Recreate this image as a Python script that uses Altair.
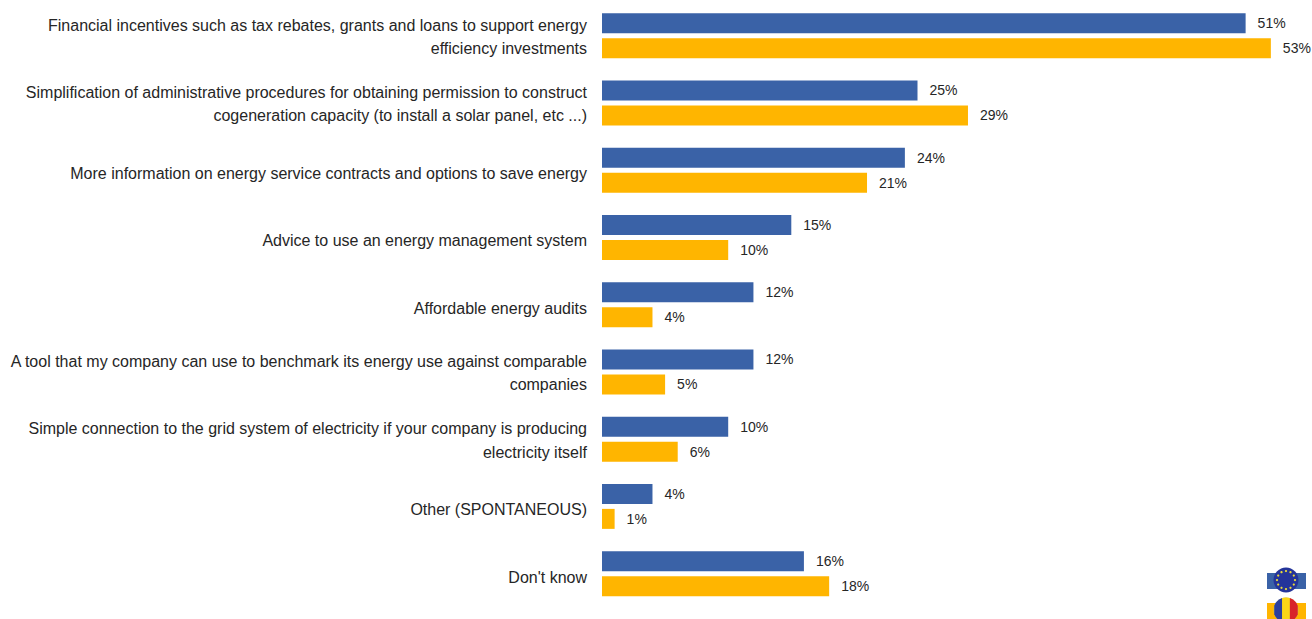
import math
import altair as alt
import pandas as pd

FONT = "Liberation Sans, Arial, sans-serif"
INK = "#262626"

categories = [
    "Financial incentives such as tax rebates, grants and loans to support energy|efficiency investments",
    "Simplification of administrative procedures for obtaining permission to construct|cogeneration capacity (to install a solar panel, etc ...)",
    "More information on energy service contracts and options to save energy",
    "Advice to use an energy management system",
    "Affordable energy audits",
    "A tool that my company can use to benchmark its energy use against comparable|companies",
    "Simple connection to the grid system of electricity if your company is producing|electricity itself",
    "Other (SPONTANEOUS)",
    "Don't know",
]
eu_values = [51, 25, 24, 15, 12, 12, 10, 4, 16]
ro_values = [53, 29, 21, 10, 4, 5, 6, 1, 18]
series = ["EU28", "RO"]
colors = ["#3A62A7", "#FFB500"]

rows = []
for name, values in zip(series, [eu_values, ro_values]):
    for cat, v in zip(categories, values):
        rows.append({"category": cat, "series": name, "value": v, "label": f"{v}%"})
df = pd.DataFrame(rows)

# One row per printed line of each category caption
caption_rows = []
for cat in categories:
    parts = cat.split("|")
    roles = ["only"] if len(parts) == 1 else ["first", "second"]
    for role, text in zip(roles, parts):
        caption_rows.append({"category": cat, "role": role, "text": text})
captions = pd.DataFrame(caption_rows)

x_scale = alt.Scale(domain=[0, 710 / 12.62], nice=False, zero=True)
y_scale = alt.Scale(domain=categories, paddingInner=0, paddingOuter=0)
offset_scale = alt.Scale(domain=series, paddingInner=0.2, paddingOuter=0.445)

y_enc = alt.Y("category:N", sort=categories, scale=y_scale, axis=None)
offset_enc = alt.YOffset("series:N", scale=offset_scale, sort=series)

bars = alt.Chart(df).mark_bar().encode(
    x=alt.X("value:Q", scale=x_scale, axis=None),
    y=y_enc,
    yOffset=offset_enc,
    color=alt.Color("series:N", scale=alt.Scale(domain=series, range=colors), legend=None),
)

labels = alt.Chart(df).mark_text(
    align="left", baseline="middle", dx=12, dy=1, font=FONT, fontSize=14, color=INK
).encode(
    x=alt.X("value:Q", scale=x_scale, axis=None),
    y=y_enc,
    yOffset=offset_enc,
    text="label:N",
)


def caption_layer(role, dy):
    return alt.Chart(captions[captions["role"] == role]).mark_text(
        align="right", baseline="middle", dy=dy, font=FONT, fontSize=16, color=INK
    ).encode(x=alt.value(-15), y=y_enc, text="text:N")


caption_layers = [caption_layer("first", -10), caption_layer("second", 13.5), caption_layer("only", 4)]

# Flag badges in the lower right corner
one = pd.DataFrame({"n": [0]})
LEFT, TOP = 602, 2


def band(x1, x2, y1, y2, color):
    return alt.Chart(one).mark_rect(color=color).encode(
        x=alt.value(x1 - LEFT), x2=alt.value(x2 - LEFT),
        y=alt.value(y1 - TOP), y2=alt.value(y2 - TOP),
    )


def badge(path, cx, cy, diameter, color):
    return alt.Chart(one).mark_point(
        shape=path, filled=True, size=diameter ** 2, color=color, opacity=1, strokeWidth=0
    ).encode(x=alt.value(cx - LEFT), y=alt.value(cy - TOP))


def circle_path(r=1.0):
    return f"M{-r} 0A{r} {r} 0 1 1 {r} 0A{r} {r} 0 1 1 {-r} 0Z"


def ring_of_stars():
    parts = []
    for i in range(12):
        a = i * math.pi / 6
        cx, cy = 0.72 * math.cos(a), 0.72 * math.sin(a)
        r = 0.09
        parts.append(f"M{cx - r:.3f} {cy:.3f}A{r} {r} 0 1 1 {cx + r:.3f} {cy:.3f}A{r} {r} 0 1 1 {cx - r:.3f} {cy:.3f}Z")
    return "".join(parts)


def stripe(x1, x2):
    # Vertical slice of the unit disc between x1 and x2
    y1, y2 = math.sqrt(1 - x1 * x1), math.sqrt(1 - x2 * x2)
    return (
        f"M{x1:.3f} {-y1:.3f}A1 1 0 0 1 {x2:.3f} {-y2:.3f}"
        f"L{x2:.3f} {y2:.3f}A1 1 0 0 1 {x1:.3f} {y1:.3f}Z"
    )


flags = [
    band(1267, 1306, 573, 589, "#3A62A7"),
    badge(circle_path(), 1286, 580, 25, "#24349A"),
    badge(ring_of_stars(), 1286, 580, 25, "#E8D83A"),
    band(1267, 1306, 603, 619, "#FFB500"),
    badge(circle_path(), 1286, 610, 25, "#C9BE5A"),
    badge(stripe(-0.94, -0.31), 1286, 610, 25, "#2B3F9E"),
    badge(stripe(-0.31, 0.31), 1286, 610, 25, "#FBD616"),
    badge(stripe(0.31, 0.94), 1286, 610, 25, "#D8232A"),
]

chart = alt.layer(bars, labels, *caption_layers, *flags).properties(
    width=710,
    height=605.25,
    padding={"left": LEFT, "top": TOP, "right": 0, "bottom": 12},
    autosize=alt.AutoSizeParams(type="none"),
    background="white",
).configure_view(stroke=None)

chart.save("out.html", embed_options={"renderer": "svg", "actions": False})
